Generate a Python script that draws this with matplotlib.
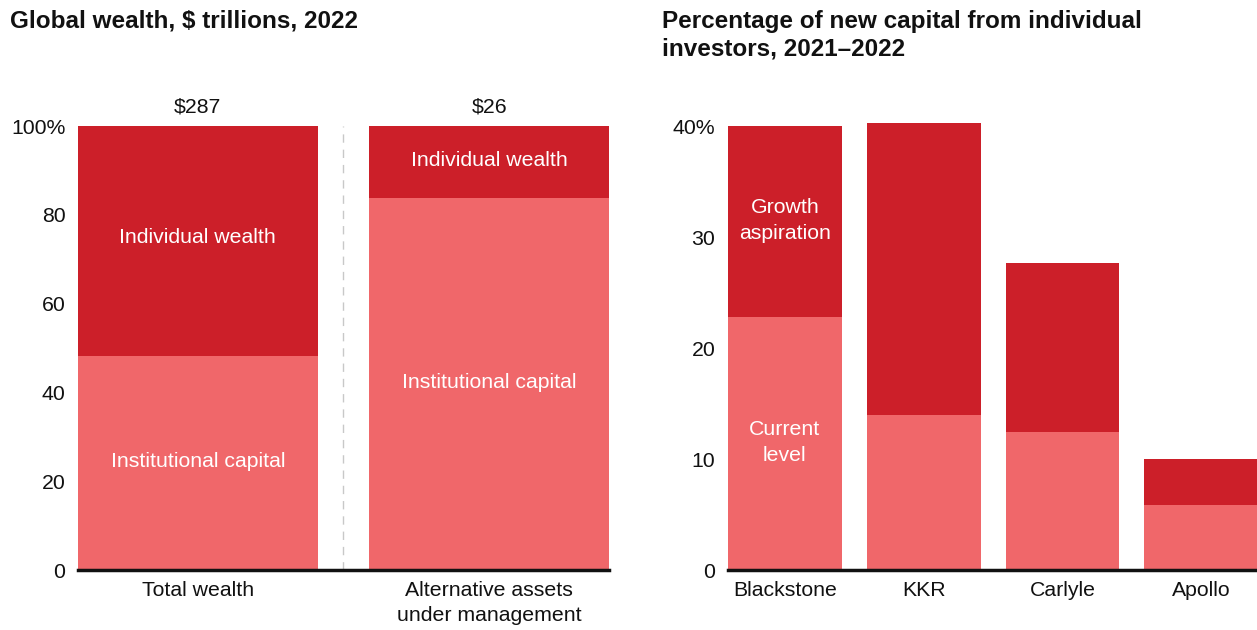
import numpy as np
import matplotlib.pyplot as plt
from matplotlib import font_manager as fm

plt.rcParams['font.family'] = ['Liberation Sans', 'DejaVu Sans']

# left panel data
wealth_cats = ['Total wealth', 'Alternative assets\nunder management']
wealth_inst = [48.2, 83.8]
wealth_indiv = [51.8, 16.2]
wealth_totals = ['$287', '$26']

# right panel data
firms = ['Blackstone', 'KKR', 'Carlyle', 'Apollo']
current_level = [22.8, 14.0, 12.4, 5.85]
growth_aspiration = [17.2, 26.3, 15.3, 4.15]

dark_red = '#CC1F29'
light_red = '#F0676A'
fs = 15.3

# make sure the bold title uses the normal-width Liberation Sans, not Narrow
bold_files = [f.fname for f in fm.fontManager.ttflist
              if f.name == 'Liberation Sans' and f.weight in (700, 'bold')
              and 'Narrow' not in f.fname and 'Italic' not in f.fname]
if bold_files:
    title_font = fm.FontProperties(fname=bold_files[0], size=17.5)
else:
    title_font = fm.FontProperties(family='Liberation Sans', weight='bold', size=17.5)

fig = plt.figure(figsize=(12.57, 6.3), dpi=100)
ax1 = fig.add_axes([0.062, 0.0952, 0.4225, 0.7048])
ax2 = fig.add_axes([0.579, 0.0952, 0.421, 0.7048])

w = 0.823
x1 = np.arange(len(wealth_cats))
ax1.bar(x1, wealth_inst, width=w, color=light_red)
ax1.bar(x1, wealth_indiv, width=w, bottom=wealth_inst, color=dark_red)
ax1.set_xlim(-0.4115, 1.4115)
ax1.set_ylim(0, 100)
ax1.set_yticks([0, 20, 40, 60, 80, 100])
ax1.set_yticklabels(['0', '20', '40', '60', '80', '100%'])
ax1.set_xticks(x1)
ax1.set_xticklabels(wealth_cats, linespacing=1.42, va='top')
ax1.axvline(0.5, color='#c8c8c8', lw=1, ls=(0, (6, 5)))
for i, t in enumerate(wealth_totals):
    tot = wealth_inst[i] + wealth_indiv[i]
    ax1.annotate(t, (x1[i], tot), xytext=(0, 7), textcoords='offset points',
                 ha='center', va='bottom', fontsize=fs, color='#111111')

ax1.text(0, 74.8, 'Individual wealth', ha='center', va='center', color='white', fontsize=fs)
ax1.text(0, 24.5, 'Institutional capital', ha='center', va='center', color='white', fontsize=fs)
ax1.text(1, 92.3, 'Individual wealth', ha='center', va='center', color='white', fontsize=fs)
ax1.text(1, 42.3, 'Institutional capital', ha='center', va='center', color='white', fontsize=fs)

x2 = np.arange(len(firms))
ax2.bar(x2, current_level, width=0.82, color=light_red, clip_on=False)
ax2.bar(x2, growth_aspiration, width=0.82, bottom=current_level, color=dark_red, clip_on=False)
ax2.set_xlim(-0.41, 3.40)
ax2.set_ylim(0, 40)
ax2.set_yticks([0, 10, 20, 30, 40])
ax2.set_yticklabels(['0', '10', '20', '30', '40%'])
ax2.set_xticks(x2)
ax2.set_xticklabels(firms)
ax2.text(0, 31.5, 'Growth\naspiration', ha='center', va='center', color='white',
         fontsize=fs, linespacing=1.42)
ax2.text(0, 11.5, 'Current\nlevel', ha='center', va='center', color='white',
         fontsize=fs, linespacing=1.42)

for ax in (ax1, ax2):
    for s in ['top', 'right', 'left']:
        ax.spines[s].set_visible(False)
    ax.spines['bottom'].set_linewidth(2.5)
    ax.spines['bottom'].set_color('#111111')
    ax.spines['bottom'].set_zorder(5)
    ax.tick_params(length=0, labelsize=fs, colors='#111111')
    ax.tick_params(axis='x', pad=8)
    ax.tick_params(axis='y', pad=9)

fig.text(0.008, 0.967, 'Global wealth, $ trillions, 2022', fontproperties=title_font,
         va='center', color='#111111')
fig.text(0.527, 0.944, 'Percentage of new capital from individual\ninvestors, 2021\u20132022',
         fontproperties=title_font, va='center', color='#111111', linespacing=1.26)

fig.savefig('out.png', dpi=100)
